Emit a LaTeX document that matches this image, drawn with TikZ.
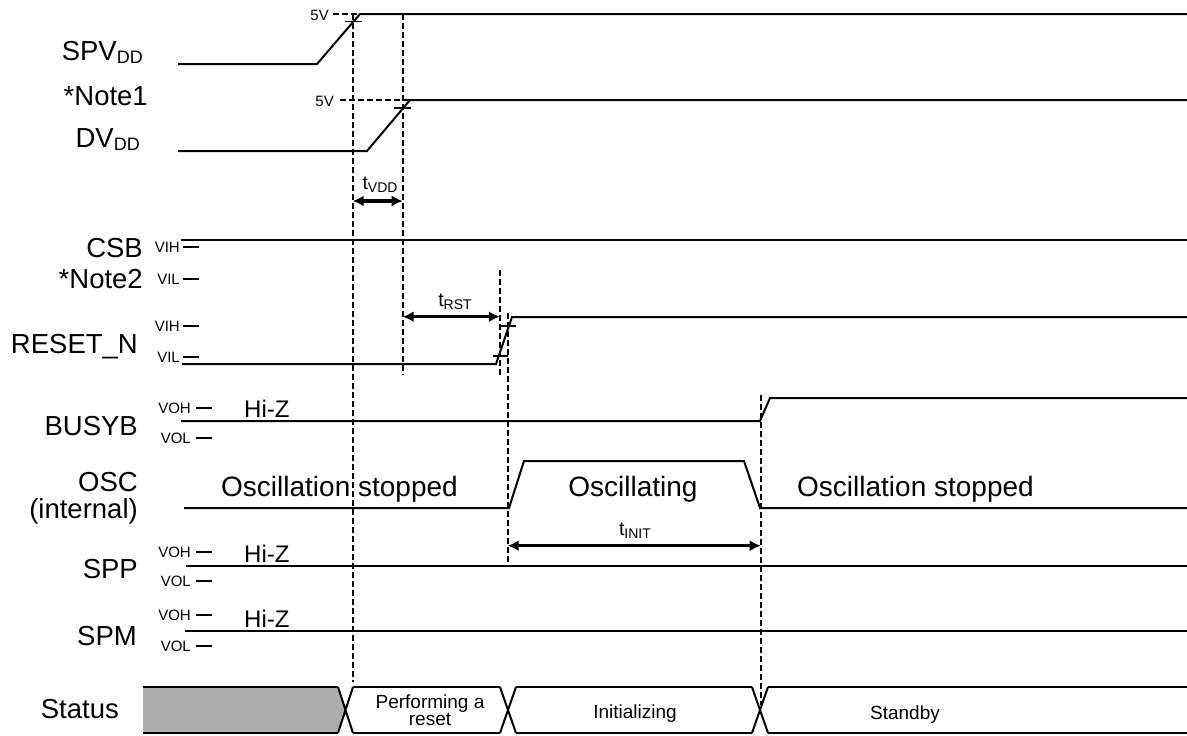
\documentclass[tikz,border=0pt]{standalone}
\usepackage{fontspec}
\setmainfont{Liberation Sans}
\usetikzlibrary{arrows.meta}
\newcommand{\sigidx}[2][14]{\raisebox{-3pt}{\fontsize{#1}{#1}\selectfont #2}}

\begin{document}
\begin{tikzpicture}[x=1pt,y=-1pt]
  \tikzstyle{sig}=[line width=2pt]
  \tikzstyle{guide}=[line width=2pt, dash pattern=on 6pt off 3pt]
  \tikzstyle{span}=[{Latex[length=11pt,width=11pt]}-{Latex[length=11pt,width=11pt]}, line width=3.2pt]
  \tikzstyle{signame}=[anchor=base east, inner sep=0pt, font=\fontsize{27.5}{30}\selectfont]
  \tikzstyle{lvl}=[anchor=east, inner sep=0pt, font=\fontsize{15}{16}\selectfont]
  \tikzstyle{lvlmark}=[line width=1.2pt]
  \tikzstyle{txt}=[anchor=base, inner sep=0pt, font=\fontsize{28}{30}\selectfont]
  \tikzstyle{hiz}=[anchor=base west, inner sep=0pt, font=\fontsize{24}{26}\selectfont]
  \tikzstyle{phase}=[inner sep=0pt, align=center, font=\fontsize{19}{16}\selectfont]
  \tikzstyle{tlabel}=[anchor=base, inner sep=0pt, font=\fontsize{19.5}{20}\selectfont]
  \useasboundingbox (0,0) rectangle (1187,736);

    \node[signame] (spv) at (143,60) {SPV\sigidx[18]{DD}};
    \node[signame] (note1) at (148,105) {*Note1};
    \node[signame] (dv) at (140,147) {DV\sigidx[18]{DD}};
    \node[signame] (csb) at (143,257) {CSB};
    \node[signame] (note2) at (143,288) {*Note2};
    \node[signame] (rst) at (138,353) {RESET\_N};
    \node[signame] (busy) at (138,435) {BUSYB};
    \node[signame] (osc) at (138,491) {OSC};
    \node[signame] (oscin) at (138,518) {(internal)};
    \node[signame] (spp) at (138,578) {SPP};
    \node[signame] (spm) at (137,645) {SPM};
    \node[signame] (stat) at (119,718) {Status};

    % input levels
    \foreach \y/\t/\n in {247/VIH/csbh, 279/VIL/csbl, 326/VIH/rsth, 357/VIL/rstl} {
      \node[lvl] (\n) at (180,\y) {\t};
      \draw[lvlmark] (183,\y) -- (199,\y);
    }
    \foreach \y/\t/\n in {408/VOH/busyh, 438/VOL/busyl, 552/VOH/spph, 581/VOL/sppl, 615/VOH/spmh, 646/VOL/spml} {
      \node[lvl] (\n) at (191,\y) {\t};
      \draw[lvlmark] (196,\y) -- (212,\y);
    }
    \node[lvl] (vspv) at (329,15) {5V};
    \node[lvl] (vdv) at (334,101) {5V};

    % waveforms
    \draw[sig] (178,64) -- (317,64) -- (360,14) -- (1187,14);
    \draw[sig] (178,151) -- (367,151) -- (410,100) -- (1187,100);
    \draw[sig] (181,240) -- (1187,240);
    \draw[sig] (182,364) -- (496,364) -- (512,317) -- (1187,317);
    \draw[sig] (181,421) -- (760,421) -- (770,398) -- (1187,398);
    \draw[sig] (184,508) -- (509,508) -- (524,461) -- (744,461) -- (760,508) -- (1187,508);
    \draw[sig] (186,566) -- (1187,566);
    \draw[sig] (185,631) -- (1187,631);

    \node[hiz] (hzbusy) at (244,417) {Hi-Z};
    \node[hiz] (hzspp) at (244,562) {Hi-Z};
    \node[hiz] (hzspm) at (244,627) {Hi-Z};
    \node[txt, anchor=base west] (stopa) at (221,496.5) {Oscillation stopped};
    \node[txt] (osci) at (633,496.5) {Oscillating};
    \node[txt, anchor=base west] (stopb) at (797,496.5) {Oscillation stopped};

    % threshold crossings
    \draw[lvlmark] (345,21.7) -- (362,21.7);
    \draw[lvlmark] (394,108) -- (411,108);
    \draw[lvlmark] (501,326) -- (516,326);
    \draw[lvlmark] (493,356) -- (507.5,356);

    % guides
    \draw[guide] (333,14) -- (360,14);
    \draw[guide] (340,100) -- (410,100);
    \draw[guide] (352.7,14) -- (352.7,682);
    \draw[guide] (402.7,14) -- (402.7,375);
    \draw[guide] (500,270) -- (500,375);
    \draw[guide] (508,313) -- (508,566);
    \draw[guide] (760.5,395) -- (760.5,705);

    % timings
    \coordinate (vdda) at (352.7,201);
    \coordinate (vddb) at (402.7,201);
    \coordinate (rsta) at (402.7,316.7);
    \coordinate (rstb) at (499.8,316.7);
    \coordinate (inia) at (507.7,545.7);
    \coordinate (inib) at (760.7,545.7);
    \path (vdda) edge [span] (vddb)
          (rsta) edge [span] (rstb)
          (inia) edge [span] (inib);
    \node[tlabel] (tvdd) at (380,189) {t\sigidx{VDD}};
    \node[tlabel] (trst) at (455,306) {t\sigidx{RST}};
    \node[tlabel] (tinit) at (635,535) {t\sigidx{INIT}};

    % status bus
    \fill[black!32] (143,687) -- (338,687) -- (345.5,710) -- (338,733) -- (143,733) -- cycle;
    \draw[sig] (143,687) -- (338,687) (143,733) -- (338,733);
    \foreach \xa/\xb in {353/500, 516/752, 768/1187}
      \draw[sig] (\xa,687) -- (\xb,687) (\xa,733) -- (\xb,733);
    \foreach \xa/\xb in {338/353, 500/516, 752/768}
      \draw[sig] (\xa,687) -- (\xb,733) (\xa,733) -- (\xb,687);
    \node[phase] (reset) at (430,710) {Performing a\\reset};
    \node[phase, anchor=base] (init) at (635,718) {Initializing};
    \node[phase, anchor=base] (stby) at (905,719) {Standby};
\end{tikzpicture}
\end{document}
